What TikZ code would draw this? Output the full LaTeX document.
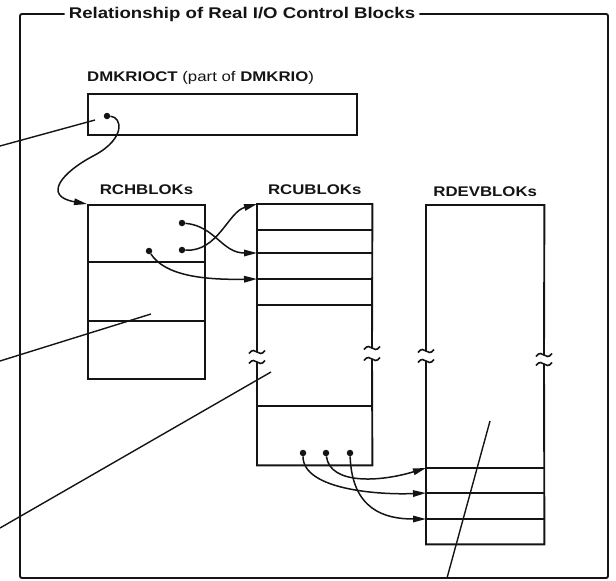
\documentclass[tikz,border=0pt]{standalone}
\usepackage{fontspec}
\setmainfont{Liberation Sans}[FakeStretch=1.2]
\usetikzlibrary{arrows.meta,positioning}
\definecolor{ink}{RGB}{20,20,20}
\tikzset{
  blk/.style={draw=ink,line width=1.9pt,inner sep=0pt,anchor=north west},
  area/.style={inner sep=0pt,anchor=north west},
  side/.style={draw=ink,line width=1.9pt},
  rule/.style={draw=ink,line width=1.5pt},
  lbl/.style={font=\fontsize{14}{16}\selectfont\bfseries,inner sep=0pt,text=ink},
  dot/.style={circle,fill=ink,inner sep=0pt,minimum size=6.5pt},
  arr/.style={-{Triangle[length=13pt,width=6.5pt]},line width=1.5pt,ink},
  lead/.style={line width=1.4pt,ink},
  brk/.pic={\draw[ink,line width=1.6pt] (-8,1.5) .. controls (-5,-3) and (-2,-1.5) .. (0,0)
    .. controls (2,1.5) and (5,3) .. (8,-1.5);},
}

\begin{document}
\begin{tikzpicture}[x=1pt,y=-1pt]
  \useasboundingbox (0,0) rectangle (616,581);
  % frame with its title
  \node[lbl,font=\fontsize{15.5}{18}\selectfont\bfseries,inner sep=4pt] (ttl) at (242,14)
    {Relationship of Real I/O Control Blocks};
  \draw[side,rounded corners=2pt] (ttl.west) -- (20,14) -- (20,578) -- (608,578)
    -- (608,14) -- (ttl.east);

  \node[lbl,anchor=west] (riolbl) at (87,78)
    {DMKRIOCT {\mdseries (part of} DMKRIO{\mdseries )}};
  \node[blk,minimum width=269,minimum height=41] (rioct) at (87,93) {};

  \node[blk,minimum width=117,minimum height=174] (rch) at (87,204) {};
  \foreach \y in {262,321} \draw[rule] (87,\y) -- (204,\y);

  \node[area,minimum width=115,minimum height=261] (rcu) at (257,204) {};
  \draw[side] (257,352) -- (rcu.north west) -- (rcu.north east) -- (372,348);
  \draw[side] (257,362) -- (rcu.south west) -- (rcu.south east) -- (372,359);
  \foreach \y in {230,253,279,305,406} \draw[rule] (257,\y) -- (372,\y);

  \node[area,minimum width=118,minimum height=339] (rdev) at (426,205) {};
  \draw[side] (426,351) -- (rdev.north west) -- (rdev.north east) -- (544,355);
  \draw[side] (426,361) -- (rdev.south west) -- (rdev.south east) -- (544,364);
  \foreach \y in {468,493,519} \draw[rule] (426,\y) -- (544,\y);

  % broken sides
  \foreach \x/\y in {257/352,257/362,372/348,372/359,426/351,426/361,544/355,544/364}
    \pic at (\x,\y) {brk};

  \node[lbl,above=9pt of rch] (rchlbl) {RCHBLOKs};
  \node[lbl,above=9pt of rcu] (rculbl) {RCUBLOKs};
  \node[lbl,above=8pt of rdev] (rdevlbl) {RDEVBLOKs};

  % pointers
  \node[dot] (p0) at (107,116) {};
  \node[dot] (c1) at (182,223) {};
  \node[dot] (c2) at (182,250) {};
  \node[dot] (c3) at (149,251) {};
  \foreach \i/\x in {1/303,2/326,3/350} \node[dot] (u\i) at (\x,453) {};

  \coordinate (rchin) at (rch.north west);
  \coordinate (rcu0) at (rcu.north west);
  \coordinate (rcu2) at (257,253);
  \coordinate (rcu3) at (257,279);
  \coordinate (dev1) at (426,468);
  \coordinate (dev2) at (426,493);
  \coordinate (dev3) at (426,519);

  \draw[arr] (p0) .. controls (122,117) and (126,138) .. (95,155)
    .. controls (62,172) and (42,196) .. (rchin);
  \draw[arr] (c1) .. controls (215,226) and (222,253) .. (rcu2);
  \draw[arr] (c2) .. controls (218,252) and (228,212) .. (rcu0);
  \draw[arr] (c3) .. controls (165,276) and (205,280) .. (rcu3);
  \draw[arr] (u1) .. controls (303,490) and (380,495) .. (dev2);
  \draw[arr] (u2) .. controls (330,485) and (380,482) .. (dev1);
  \draw[arr] (u3) .. controls (352,510) and (385,519) .. (dev3);

  % leader lines
  \coordinate (la) at (0,146);   \coordinate (lae) at (95,120);
  \coordinate (lb) at (0,361);   \coordinate (lbe) at (151,314);
  \coordinate (lc) at (0,528);   \coordinate (lce) at (271,372);
  \coordinate (ld) at (490,421); \coordinate (lde) at (447,578);
  \foreach \s/\e in {la/lae,lb/lbe,lc/lce,ld/lde} \draw[lead] (\s) -- (\e);
\end{tikzpicture}
\end{document}
